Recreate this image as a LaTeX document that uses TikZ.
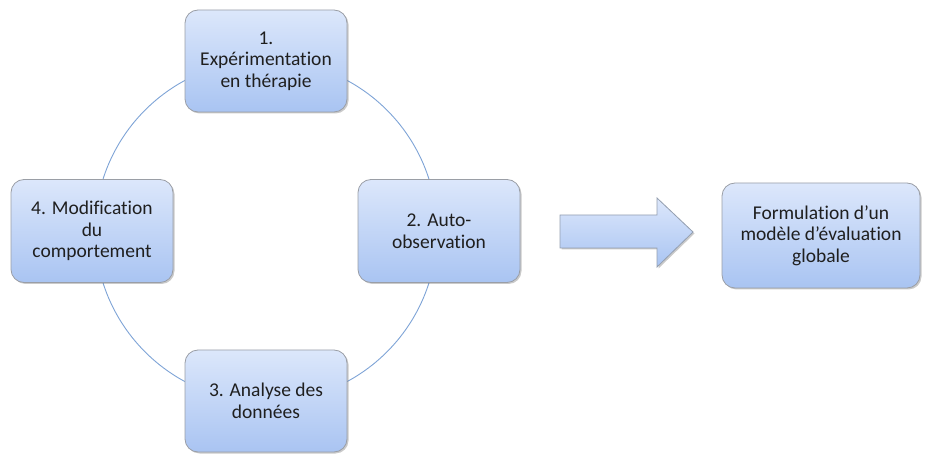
\documentclass[tikz,border=0pt]{standalone}
\usepackage{fontspec}
\setmainfont{Carlito}[Ligatures=NoCommon]
\usetikzlibrary{shadows}
\definecolor{boxtop}{HTML}{DCE7FB}
\definecolor{boxbot}{HTML}{A9C4F2}
\definecolor{boxline}{HTML}{9A9EA6}
\definecolor{ringline}{HTML}{7EA3D6}
\definecolor{txt}{HTML}{1F1F1F}
\begin{document}
\begin{tikzpicture}[x=1pt,y=-1pt,
  stepbox/.style={draw=boxline, line width=0.8pt, rounded corners=13pt,
    top color=boxtop, bottom color=boxbot, text=txt, align=center,
    font=\fontsize{19.5}{21.5}\selectfont, inner sep=0pt,
    drop shadow={shadow xshift=1.5pt, shadow yshift=-1.5pt, opacity=0.35, fill=black!60}},
  ring/.style={draw=ringline, line width=0.9pt}]
\useasboundingbox (0,0) rectangle (927,454);
\coordinate (c) at (266,231);
\draw[ring] (c) circle[radius=171];
\node[stepbox, minimum width=162pt, minimum height=102pt] (s1) at (266,61) {1.\\Expérimentation\\en thérapie};
\node[stepbox, minimum width=162pt, minimum height=103pt] (s2) at (439,231) {2. Auto-\\observation};
\node[stepbox, minimum width=162pt, minimum height=102pt] (s3) at (266,401) {3. Analyse des\\données};
\node[stepbox, minimum width=162pt, minimum height=103pt] (s4) at (92,231) {4. Modification\\du\\comportement};
\node[stepbox, minimum width=198pt, minimum height=105pt] (f) at (821,235.5) {Formulation d’un\\modèle d’évaluation\\globale};
\draw[draw=boxline!80!ringline, line width=0.8pt, top color=boxtop, bottom color=boxbot,
  drop shadow={shadow xshift=1.5pt, shadow yshift=-1.5pt, opacity=0.35, fill=black!60}]
  (560,215) -- (657,215) -- (657,198) -- (693,232) -- (657,267) -- (657,248) -- (560,248) -- cycle;
\end{tikzpicture}
\end{document}
